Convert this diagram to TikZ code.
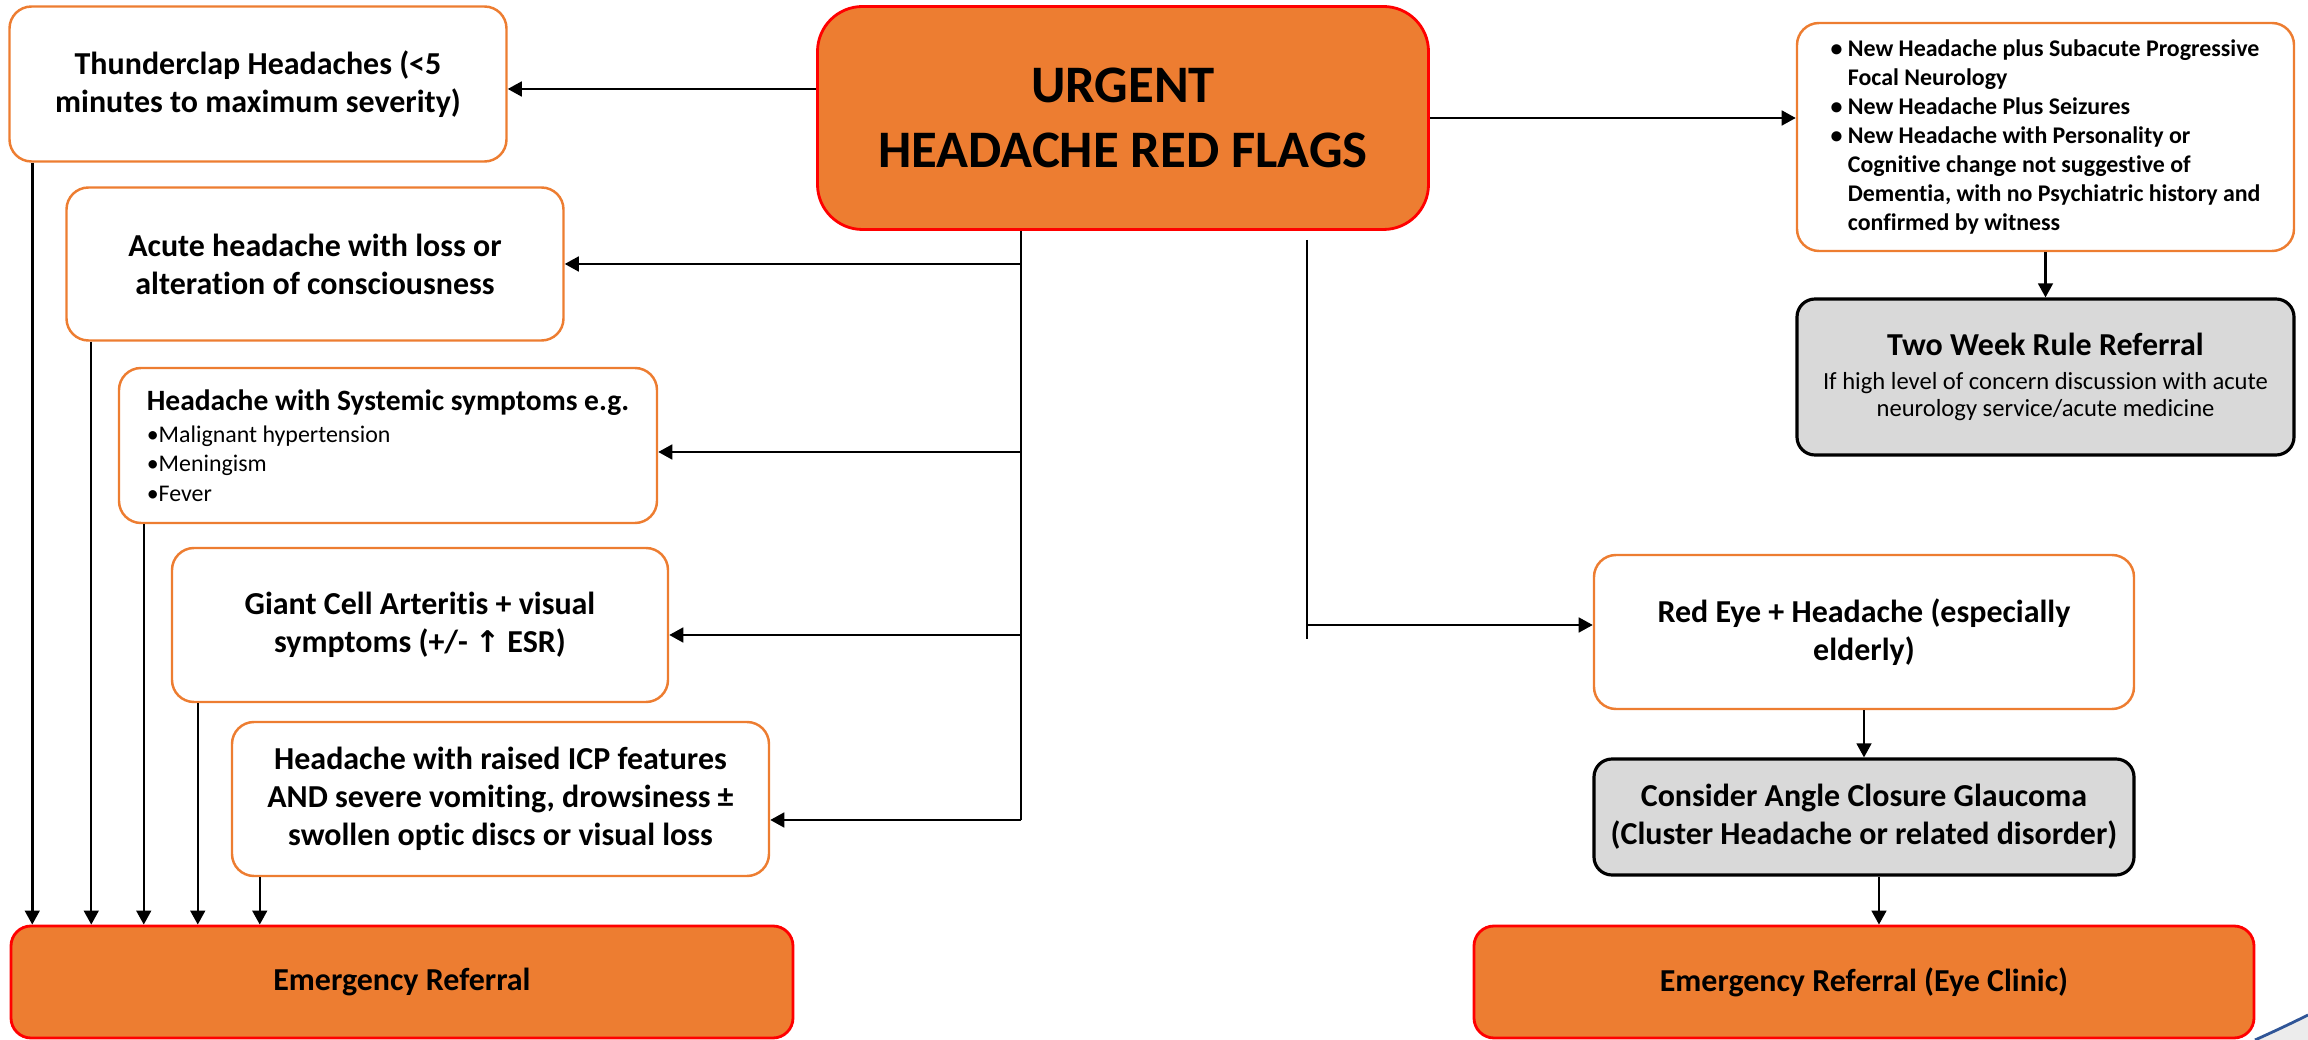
\documentclass[tikz,border=0pt]{standalone}
\usepackage{fontspec}
\setmainfont[Ligatures=NoCommon]{Carlito}
\newfontfamily\arrowfont{DejaVu Sans}
\usepackage{tikz}
\usetikzlibrary{arrows.meta,positioning,calc}
\definecolor{flagorange}{HTML}{ED7D31}
\definecolor{flagred}{HTML}{FF0000}
\definecolor{boxgray}{HTML}{D9D9D9}
\definecolor{arcblue}{HTML}{2F5597}

\begin{document}
\begin{tikzpicture}[
    flag/.style={draw=flagorange, line width=0.7pt, fill=white, rounded corners=0.22cm, align=center, inner sep=0pt, font=\bfseries\fontsize{9.1}{10.8}\selectfont},
    urgentbox/.style={draw=flagred, line width=0.8pt, fill=flagorange, rounded corners=0.45cm, align=center, inner sep=0pt, font=\bfseries\fontsize{15}{18.4}\selectfont},
    referral/.style={draw=flagred, line width=0.8pt, fill=flagorange, rounded corners=0.2cm, align=center, inner sep=0pt, font=\bfseries\fontsize{9.1}{10.8}\selectfont},
    greybox/.style={draw=black, line width=0.9pt, fill=boxgray, rounded corners=0.18cm, align=center, inner sep=0pt},
    arr/.style={-{Triangle[length=4pt,width=4.2pt]}, line width=0.7pt},
    link/.style={line width=0.5pt}
]
    \useasboundingbox (0,0) rectangle (23.08,-10.40);

    % Red flags box
    \node[urgentbox, minimum width=6.11cm, minimum height=2.23cm] (urgent) at (11.23,-1.18) {URGENT\\HEADACHE RED FLAGS};

    % Emergency branch
    \node[flag, minimum width=4.97cm, minimum height=1.55cm] (thunder) at (2.58,-0.84) {Thunderclap Headaches (<5\\minutes to maximum severity)};
    \node[flag, minimum width=4.97cm, minimum height=1.53cm] (acute) at (3.15,-2.64) {Acute headache with loss or\\alteration of consciousness};
    \node[flag, minimum width=5.38cm, minimum height=1.55cm, align=left, font=\fontsize{6.8}{8.4}\selectfont] (systemic) at (3.88,-4.455)
        {{\bfseries\fontsize{8.4}{10}\selectfont Headache with Systemic symptoms e.g.}\\[0.6pt]
         \textbullet Malignant hypertension\\ \textbullet Meningism\\ \textbullet Fever};
    \node[flag, minimum width=4.96cm, minimum height=1.54cm] (giant) at (4.20,-6.25) {Giant Cell Arteritis + visual\\symptoms (+/- {\arrowfont\fontsize{8.5}{10}\selectfont ↑} ESR)};
    \node[flag, minimum width=5.37cm, minimum height=1.54cm] (icp) at (5.005,-7.99) {Headache with raised ICP features\\AND severe vomiting, drowsiness ±\\swollen optic discs or visual loss};
    \node[referral, minimum width=7.82cm, minimum height=1.12cm] (emerg) at (4.02,-9.82) {Emergency Referral};

    % Two week rule branch
    \node[flag, minimum width=4.97cm, minimum height=2.28cm, align=left, font=\bfseries\fontsize{6.8}{8.25}\selectfont] (bullets) at (20.455,-1.37)
        {\textbullet\ New Headache plus Subacute Progressive\\
         \hphantom{\textbullet\ }Focal Neurology\\
         \textbullet\ New Headache Plus Seizures\\
         \textbullet\ New Headache with Personality or\\
         \hphantom{\textbullet\ }Cognitive change not suggestive of\\
         \hphantom{\textbullet\ }Dementia, with no Psychiatric history and\\
         \hphantom{\textbullet\ }confirmed by witness};
    \node[greybox, minimum width=4.97cm, minimum height=1.56cm, font=\fontsize{7}{7.8}\selectfont] (twoweek) at (20.455,-3.77)
        {{\bfseries\fontsize{9.1}{11}\selectfont Two Week Rule Referral}\\[1.8pt]
         If high level of concern discussion with acute\\neurology service/acute medicine};

    % Eye branch
    \node[flag, minimum width=5.40cm, minimum height=1.54cm] (redeye) at (18.64,-6.32) {Red Eye + Headache (especially\\elderly)};
    \node[greybox, minimum width=5.40cm, minimum height=1.16cm, font=\bfseries\fontsize{9.1}{10.8}\selectfont] (glaucoma) at (18.64,-8.17) {Consider Angle Closure Glaucoma\\(Cluster Headache or related disorder)};
    \node[referral, minimum width=7.80cm, minimum height=1.12cm] (eyeclinic) at (18.64,-9.82) {Emergency Referral (Eye Clinic)};

    % Arrows out of the red flags box
    \draw[arr] ([yshift=-0.05cm]urgent.west |- thunder.east) -- ([yshift=-0.05cm]thunder.east);
    \draw[arr] (urgent.east) -- (urgent.east -| bullets.west);
    \draw[arr] (bullets.south) -- (twoweek.north);

    % Left trunk
    \coordinate (trunk) at ([xshift=-1.02cm]urgent.south);
    \coordinate (icp in) at ([yshift=-0.21cm]icp.east);
    \draw[link] (trunk) -- (trunk |- icp in);
    \draw[arr] (trunk |- acute.east) -- (acute.east);
    \draw[arr] (trunk |- systemic.east) ++(0,-0.065) -- ([yshift=-0.065cm]systemic.east);
    \draw[arr] (trunk |- giant.east) ++(0,-0.1) -- ([yshift=-0.1cm]giant.east);
    \draw[arr] (trunk |- icp in) -- (icp in);

    % Down to emergency referral
    \foreach \src/\dx in {thunder/0.24, acute/0.26, systemic/0.26, giant/0.27, icp/0.29}{
        \coordinate (s) at ([xshift=\dx cm]\src.south west);
        \draw[arr] (s) -- (s |- emerg.north);
    }

    % Right trunk
    \coordinate (eye trunk) at ([xshift=1.84cm, yshift=-0.09cm]urgent.south);
    \draw[link] (eye trunk) -- ([yshift=-0.07cm]eye trunk |- redeye.west);
    \draw[arr] ([yshift=0.07cm]eye trunk |- redeye.west) -- ([yshift=0.07cm]redeye.west);
    \draw[arr] (redeye.south) -- (glaucoma.north);
    \draw[arr] ([xshift=0.15cm]glaucoma.south) -- ([xshift=0.15cm]glaucoma.south |- eyeclinic.north);

    % Corner arc
    \fill[gray!15] (22.55,-10.40) .. controls (22.75,-10.31) and (22.92,-10.23) .. (23.08,-10.15) -- (23.08,-10.40) -- cycle;
    \draw[arcblue, line width=0.8pt] (22.55,-10.40) .. controls (22.75,-10.31) and (22.92,-10.23) .. (23.08,-10.15);

\end{tikzpicture}
\end{document}
